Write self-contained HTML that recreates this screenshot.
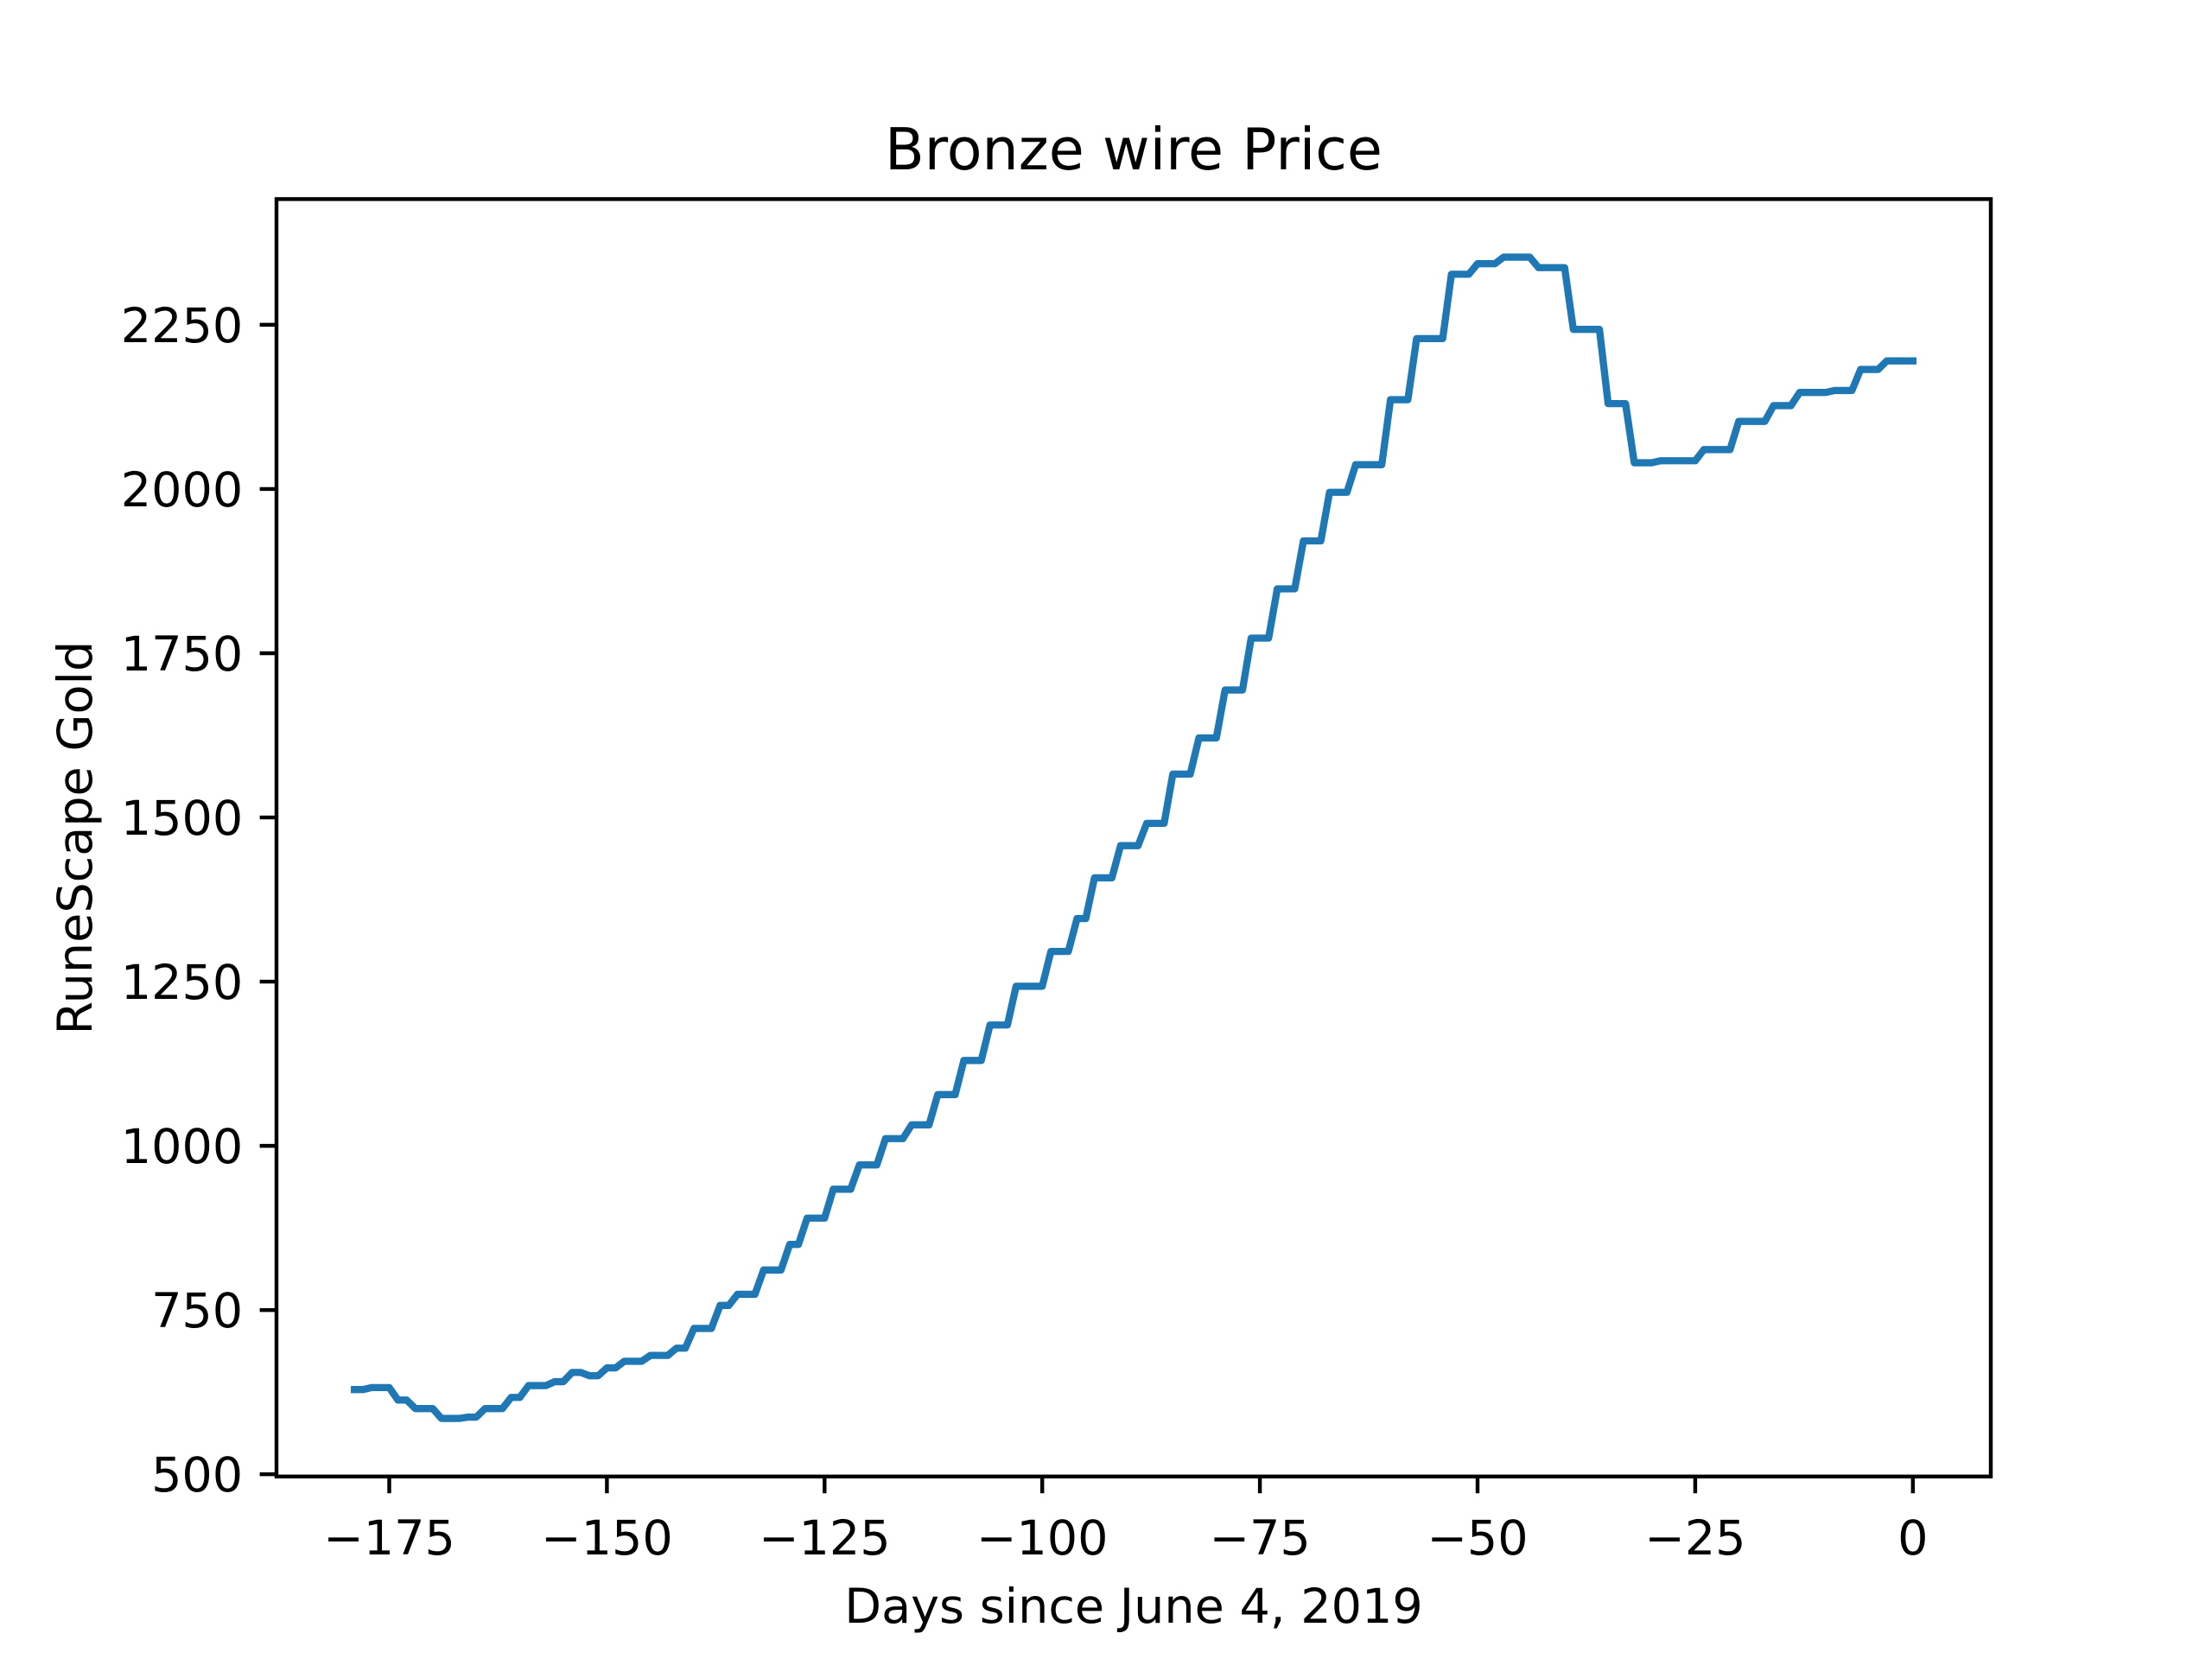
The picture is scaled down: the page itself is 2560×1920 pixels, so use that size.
<!DOCTYPE html>
<html><head><meta charset="utf-8"><style>
html,body{margin:0;padding:0;background:#fff}
svg{display:block}
text{font-family:"DejaVu Sans","Liberation Sans",sans-serif;fill:#000}
</style></head><body>
<svg id="chart" width="2560" height="1920" viewBox="0 0 2560 1920" xmlns="http://www.w3.org/2000/svg">
<rect x="0" y="0" width="2560" height="1920" fill="#fff"/>
<text x="1312" y="196" font-size="66.7" text-anchor="middle">Bronze wire Price</text>
<g id="xticks"></g>
<g id="yticks"></g>
<path id="series" fill="none" stroke="#1f77b4" stroke-width="8.33" stroke-linejoin="round" stroke-linecap="square"/>
<rect x="320" y="230.4" width="1984" height="1478.4" fill="none" stroke="#000" stroke-width="4.44"/>
<text x="1312" y="1878" font-size="55.6" text-anchor="middle">Days since June 4, 2019</text>
<text x="0" y="0" font-size="55.6" text-anchor="middle" transform="translate(106,969.6) rotate(-90)">RuneScape Gold</text>
</svg>
<script>
const startDay = -179;
const prices = [629,629,632,632,632,613,613,600,600,600,585,585,585,587,587,600,600,600,617,617,635,635,635,641,641,655,655,650,650,662,662,672,672,672,681,681,681,692,692,722,722,722,757,757,774,774,774,811,811,811,850,850,890,890,890,934,934,934,971,971,971,1011,1011,1011,1032,1032,1032,
1078,1078,1078,1130,1130,1130,1184,1184,1184,1243,1243,1243,1243,1296,1296,1296,1346,1346,1408,1408,1408,1457,1457,1457,1491,1491,1491,1566,1566,1566,1621,1621,1621,1694,1694,1694,1773,1773,1773,1848,1848,1848,1921,1921,1921,1995,1995,1995,2037,2037,2037,2037,2136,2136,2136,2229,2229,2229,2229,2327,2327,2327,2343,2343,2343,2353,2353,2353,2353,2337,2337,2337,2337,2243,2243,2243,2243,2130,2130,2130,2040,2040,2040,2043,2043,2043,2043,2043,2060,2060,2060,2060,2103,2103,2103,2103,2127,2127,2127,2147,2147,2147,2147,2150,2150,2150,2182,2182,2182,2195,2195,2195,2195];
const xTickValues = [-175,-150,-125,-100,-75,-50,-25,0];
const yTickValues = [500,750,1000,1250,1500,1750,2000,2250];

const NS = "http://www.w3.org/2000/svg";
const L=320,R=2304,T=230.4,B=1708.8;
const days = prices.map((_,i)=>startDay+i);
const xmin0=Math.min(...days), xmax0=Math.max(...days);
const ymin0=Math.min(...prices), ymax0=Math.max(...prices);
const xm=(xmax0-xmin0)*0.05, ym=(ymax0-ymin0)*0.05;
const xlo=xmin0-xm, xhi=xmax0+xm, ylo=ymin0-ym, yhi=ymax0+ym;
const sx=v=>L+(v-xlo)/(xhi-xlo)*(R-L);
const sy=v=>B-(v-ylo)/(yhi-ylo)*(B-T);
const fmt=v=>v<0?"\u2212"+Math.abs(v):String(v);

const xg=document.getElementById('xticks');
xTickValues.forEach(v=>{
  const x=sx(v);
  const ln=document.createElementNS(NS,'line');
  ln.setAttribute('x1',x);ln.setAttribute('x2',x);ln.setAttribute('y1',B);ln.setAttribute('y2',B+19.4);
  ln.setAttribute('stroke','#000');ln.setAttribute('stroke-width','4.44');
  
  
  xg.appendChild(ln);
  const t=document.createElementNS(NS,'text');
  t.setAttribute('x',x);t.setAttribute('y',B+90);t.setAttribute('font-size','55.6');t.setAttribute('text-anchor','middle');
  t.textContent=fmt(v);
  
  
  xg.appendChild(t);
});
const yg=document.getElementById('yticks');
yTickValues.forEach(v=>{
  const y=sy(v);
  const ln=document.createElementNS(NS,'line');
  ln.setAttribute('x1',L-19.4);ln.setAttribute('x2',L);ln.setAttribute('y1',y);ln.setAttribute('y2',y);
  ln.setAttribute('stroke','#000');ln.setAttribute('stroke-width','4.44');
  
  
  yg.appendChild(ln);
  const t=document.createElementNS(NS,'text');
  t.setAttribute('x',L-38.8);t.setAttribute('y',y+20);t.setAttribute('font-size','55.6');t.setAttribute('text-anchor','end');
  t.textContent=fmt(v);
  
  
  yg.appendChild(t);
});
let d='';
prices.forEach((p,i)=>{d+=(i?'L':'M')+sx(days[i]).toFixed(2)+','+sy(p).toFixed(2);});
document.getElementById('series').setAttribute('d',d);
</script>
</body></html>
